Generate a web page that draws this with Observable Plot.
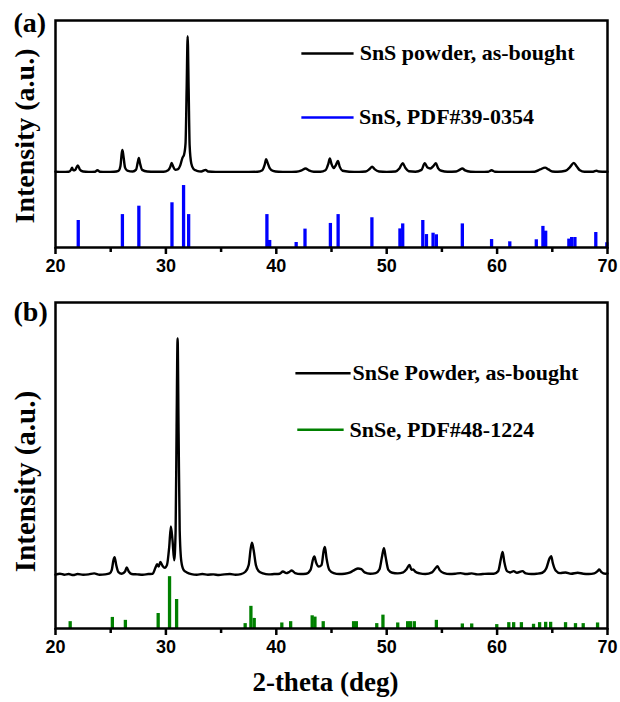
<!DOCTYPE html>
<html>
<head>
<meta charset="utf-8">
<script src="https://cdn.jsdelivr.net/npm/d3@7"></script>
<script src="https://cdn.jsdelivr.net/npm/@observablehq/plot@0.6"></script>
<style>
  html, body { margin: 0; padding: 0; background: #fff; }
  #chart svg { display: block; }
</style>
</head>
<body>
<div id="chart"></div>
<script>
// ---------- Data ----------
const xTicks = [20, 30, 40, 50, 60, 70];
const xMinorTicks = [25, 35, 45, 55, 65];
const xLabel = "2-theta (deg)";
const yLabel = "Intensity (a.u.)";
const panelLabels = ["(a)", "(b)"];

// (a) SnS powder trace: [2-theta, intensity a.u.]
const snsTrace = [
  [20.0,33.4],[20.6,33.3],[21.2,33.4],[21.4,34.2],[21.5,35.1],[21.62,34.0],[21.8,34.3],[22.02,36.2],[22.2,34.4],
  [22.5,33.5],[23.0,33.3],[23.6,33.4],[23.8,34.1],[24.0,33.4],[24.6,33.3],[25.3,33.4],[25.7,33.8],[25.88,35.8],
  [26.0,41.5],[26.06,43.0],[26.15,40.5],[26.3,35.2],[26.5,33.9],[27.0,33.5],[27.3,34.3],[27.45,37.5],[27.55,39.4],
  [27.65,37.2],[27.85,34.2],[28.3,33.5],[29.0,33.4],[29.8,33.4],[30.2,34.0],[30.4,35.6],[30.52,37.2],[30.65,35.8],
  [30.85,34.2],[31.1,34.5],[31.3,36.2],[31.5,39.5],[31.65,41.0],[31.78,46.0],[31.88,70.0],[31.97,93.1],[32.06,70.0],
  [32.15,45.0],[32.3,37.0],[32.5,34.6],[32.8,33.8],[33.2,33.5],[33.6,34.2],[33.8,33.5],[34.5,33.3],[35.5,33.3],
  [36.5,33.3],[37.5,33.3],[38.3,33.4],[38.7,33.9],[38.95,36.5],[39.08,38.9],[39.2,37.5],[39.4,35.0],[39.7,33.8],
  [40.2,33.4],[41.0,33.3],[41.8,33.4],[42.3,34.0],[42.65,34.8],[42.95,34.0],[43.4,33.4],[44.0,33.4],[44.45,34.0],
  [44.72,37.0],[44.85,39.2],[45.0,36.8],[45.2,35.0],[45.4,36.3],[45.58,38.1],[45.75,35.5],[46.0,33.8],[46.6,33.4],
  [47.5,33.3],[48.1,33.5],[48.45,34.6],[48.68,35.6],[48.9,34.5],[49.3,33.5],[50.0,33.3],[50.8,33.5],[51.15,34.8],
  [51.45,37.1],[51.7,35.0],[52.0,33.6],[52.6,33.4],[53.15,34.2],[53.45,37.1],[53.7,35.2],[53.95,34.8],[54.25,36.0],
  [54.45,37.1],[54.65,35.0],[54.95,33.8],[55.5,33.4],[56.3,33.5],[56.6,34.2],[56.85,34.8],[57.1,34.0],[57.6,33.4],
  [58.5,33.3],[59.2,33.4],[59.5,34.0],[59.8,33.4],[60.5,33.3],[61.5,33.3],[62.5,33.3],[63.4,33.4],[63.9,34.4],
  [64.35,35.2],[64.65,34.4],[65.0,33.5],[65.5,33.4],[66.2,33.8],[66.6,35.4],[66.95,37.3],[67.2,35.8],[67.5,34.0],
  [67.9,33.4],[68.7,33.4],[69.0,33.8],[69.2,33.5],[70.0,33.4]
];

// (a) SnS PDF#39-0354 sticks: [2-theta, relative intensity a.u.]
const snsPdf = [
  [22.06,11.9],[26.06,14.5],[27.55,18.2],[30.55,19.7],[31.6,27.3],[32.06,14.5],[39.15,14.5],[39.4,3.1],
  [41.8,2.2],[42.6,8.1],[44.9,10.6],[45.6,14.5],[48.66,13.1],[51.2,8.2],[51.45,10.4],[53.27,11.9],[53.6,5.7],
  [54.2,6.3],[54.5,5.6],[56.85,10.4],[59.5,3.5],[61.15,2.5],[63.55,3.4],[64.15,9.3],[64.4,7.2],[66.5,3.7],
  [66.75,4.4],[67.05,4.4],[68.94,6.6],[69.94,2.1]
];

// (b) SnSe powder trace: [2-theta, intensity a.u.]
const snseTrace = [
  [20.0,16.5],[20.4,16.8],[20.8,16.5],[21.2,16.7],[21.6,16.4],[22.0,16.7],[22.5,16.5],[23.0,16.6],[23.5,16.9],
  [24.0,16.5],[24.5,16.6],[24.9,16.9],[25.1,18.0],[25.25,21.0],[25.35,21.9],[25.5,19.5],[25.7,17.3],[26.0,16.8],
  [26.3,17.5],[26.45,18.7],[26.65,17.4],[26.9,16.7],[27.4,16.6],[27.9,16.5],[28.4,16.7],[28.8,16.8],[29.05,18.6],
  [29.2,19.7],[29.35,19.0],[29.5,20.4],[29.7,19.2],[29.9,18.6],[30.1,19.5],[30.3,25.0],[30.45,31.3],[30.6,27.0],
  [30.75,20.9],[30.88,30.0],[30.97,62.0],[31.06,89.0],[31.15,60.0],[31.25,30.0],[31.4,20.5],[31.6,18.0],[31.9,17.2],
  [32.3,16.7],[32.8,16.5],[33.3,16.7],[33.8,16.5],[34.3,16.6],[34.8,16.4],[35.3,16.6],[35.8,16.7],[36.3,16.5],
  [36.8,16.7],[37.2,17.4],[37.5,19.5],[37.68,24.5],[37.8,26.3],[37.95,24.0],[38.15,19.5],[38.4,17.6],[38.8,16.9],
  [39.3,16.6],[39.8,16.7],[40.3,16.8],[40.6,17.5],[40.9,17.0],[41.15,17.3],[41.4,17.8],[41.7,17.0],[42.2,16.7],
  [42.7,16.8],[43.1,18.0],[43.35,21.5],[43.45,22.1],[43.6,20.3],[43.85,19.0],[44.1,19.5],[44.3,24.0],[44.4,25.0],
  [44.55,21.5],[44.8,18.0],[45.2,17.0],[45.7,16.7],[46.2,16.8],[46.7,17.2],[47.1,18.0],[47.4,18.4],[47.7,18.2],
  [48.0,17.2],[48.5,16.8],[49.0,17.0],[49.35,18.2],[49.6,22.5],[49.75,24.6],[49.9,22.0],[50.15,18.0],[50.5,17.1],
  [51.0,16.9],[51.5,17.2],[51.8,18.2],[52.06,19.5],[52.25,18.0],[52.4,18.1],[52.6,17.4],[53.0,16.9],[53.5,16.7],
  [54.1,17.2],[54.4,18.4],[54.6,19.1],[54.8,17.9],[55.2,17.0],[55.7,16.7],[56.2,16.8],[56.7,17.0],[57.2,16.7],
  [57.7,16.9],[58.2,16.6],[58.7,16.7],[59.2,16.8],[59.7,16.8],[60.1,17.6],[60.35,21.5],[60.5,23.5],[60.65,20.5],
  [60.9,17.6],[61.2,17.2],[61.5,17.6],[61.8,17.1],[62.3,17.6],[62.6,16.9],[63.1,16.7],[63.6,16.8],[64.1,17.1],
  [64.45,18.4],[64.75,21.5],[64.9,22.2],[65.05,20.0],[65.3,17.8],[65.7,17.0],[66.2,17.2],[66.7,16.8],[67.3,17.1],
  [67.8,16.8],[68.3,16.7],[68.8,16.9],[69.1,17.6],[69.25,18.1],[69.45,17.3],[69.8,16.8],[70.0,16.9]
];

// (b) SnSe PDF#48-1224 sticks: [2-theta, relative intensity a.u.]
const snsePdf = [
  [21.33,2.1],[25.15,3.4],[26.33,2.5],[29.3,4.6],[30.33,15.9],[30.97,8.9],[37.18,1.5],[37.7,6.8],[38.0,3.1],
  [40.5,1.7],[41.3,2.1],[43.25,3.9],[43.5,3.5],[44.25,2.1],[47.0,2.1],[47.25,2.1],[49.1,1.5],[49.66,4.1],
  [51.0,1.7],[51.9,2.1],[52.15,2.1],[52.5,2.1],[54.5,2.5],[56.85,1.4],[57.7,1.4],[59.97,1.2],[61.06,1.8],
  [61.5,1.8],[62.2,1.8],[63.3,1.3],[63.85,1.8],[64.4,1.9],[64.85,1.9],[66.2,1.8],[67.1,1.5],[67.8,1.5],[69.1,1.7]
];

const legendA = [
  {name: "SnS powder, as-bought", color: "#000000", x1: 42.27, x2: 47.0, tx: 47.55, y: 85.5},
  {name: "SnS, PDF#39-0354", color: "#0000ff", x1: 42.27, x2: 47.0, tx: 47.5, y: 57.3}
];
const legendB = [
  {name: "SnSe Powder, as-bought", color: "#000000", x1: 41.73, x2: 46.73, tx: 46.9, y: 78.3},
  {name: "SnSe, PDF#48-1224", color: "#008000", x1: 41.9, x2: 46.1, tx: 46.64, y: 61.0}
];

// ---------- Drawing ----------
const serif = "'Liberation Serif', 'Times New Roman', serif";
const sans = "'Liberation Sans', Arial, sans-serif";

function panel({trace, sticks, stickColor, legend, label, height, marginTop, marginBottom, labelDy, yLabelDy, yLabelSize, showXLabel}) {
  const marks = [
    Plot.ruleX(sticks, {x: d => d[0], y1: 0, y2: d => d[1], stroke: stickColor, strokeWidth: 3.3}),
    Plot.line(trace, {x: d => d[0], y: d => d[1], stroke: "black", strokeWidth: 2.4, curve: "monotone-x", strokeLinejoin: "round"}),
    Plot.axisX(xMinorTicks, {tickSize: 5, text: null, strokeWidth: 2.5, label: null}),
    Plot.axisX(xTicks, {tickSize: 7, tickPadding: 5, strokeWidth: 2.5, label: null,
      fontFamily: sans, fontSize: 18, fontWeight: "bold", fill: "black"}),
    Plot.frame({stroke: "black", strokeWidth: 2.5}),
    Plot.text([label], {frameAnchor: "top-left", text: d => d, textAnchor: "start", lineAnchor: "middle",
      dx: -42, dy: labelDy, fontFamily: serif, fontSize: 28, fontWeight: "bold", fill: "black"}),
    Plot.text([yLabel], {frameAnchor: "left", text: d => d, rotate: -90, textAnchor: "middle", lineAnchor: "middle",
      dx: -30, dy: yLabelDy, fontFamily: serif, fontSize: yLabelSize, fontWeight: "bold", fill: "black"})
  ];
  for (const e of legend) {
    marks.push(Plot.link([e], {x1: "x1", x2: "x2", y1: "y", y2: "y", stroke: e.color, strokeWidth: 2.5}));
    marks.push(Plot.text([e], {x: "tx", y: "y", text: "name", textAnchor: "start", lineAnchor: "middle",
      fontFamily: serif, fontSize: 22, fontWeight: "bold", fill: "black"}));
  }
  if (showXLabel) {
    marks.push(Plot.text([xLabel], {frameAnchor: "bottom", text: d => d, textAnchor: "middle", lineAnchor: "middle",
      dx: -6, dy: 54, fontFamily: serif, fontSize: 27, fontWeight: "bold", fill: "black"}));
  }
  return Plot.plot({
    width: 620,
    height,
    marginLeft: 55,
    marginRight: 13,
    marginTop,
    marginBottom,
    x: {domain: [20, 70], axis: null},
    y: {domain: [0, 100], axis: null},
    style: {background: "white", overflow: "visible", fontFamily: sans},
    marks
  });
}

const chart = document.getElementById("chart");
chart.append(panel({trace: snsTrace, sticks: snsPdf, stickColor: "#0000ff", legend: legendA, label: panelLabels[0],
  height: 290, marginTop: 20, marginBottom: 43, labelDy: 3, yLabelDy: 2, yLabelSize: 28, showXLabel: false}));
chart.append(panel({trace: snseTrace, sticks: snsePdf, stickColor: "#008000", legend: legendB, label: panelLabels[1],
  height: 412, marginTop: 12, marginBottom: 74, labelDy: 10, yLabelDy: 16, yLabelSize: 29, showXLabel: true}));
</script>
</body>
</html>
